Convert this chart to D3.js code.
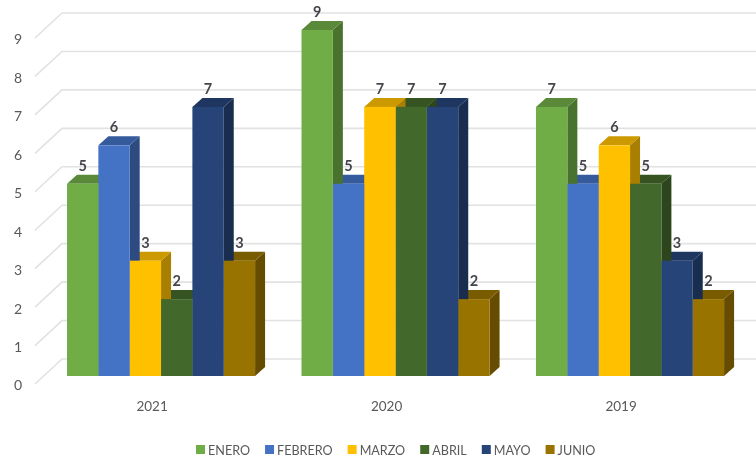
<!DOCTYPE html>
<html>
<head>
<meta charset="utf-8">
<script src="https://cdn.jsdelivr.net/npm/d3@7"></script>
<style>
  html, body { margin: 0; background: #fff; }
  svg { display: block; filter: blur(0.45px); }
  text { font-family: Lato, "Open Sans", sans-serif; fill: #595959; }
</style>
</head>
<body>
<svg width="756" height="459"></svg>
<script>
// data
const years = ['2021', '2020', '2019'];
const months = ['ENERO', 'FEBRERO', 'MARZO', 'ABRIL', 'MAYO', 'JUNIO'];
const enero = [5, 9, 7];
const febrero = [6, 5, 5];
const marzo = [3, 7, 6];
const abril = [2, 7, 5];
const mayo = [7, 7, 3];
const junio = [3, 2, 2];
const monthValues = [enero, febrero, marzo, abril, mayo, junio];
const monthColors = ['#70ad47', '#4472c4', '#ffc000', '#43682b', '#264478', '#997300'];
const valueTicks = [0, 1, 2, 3, 4, 5, 6, 7, 8, 9];

// 3d look
const depthX = 10, depthY = 9;
const wallX = 62, wallY = 17, floorLeft = 35;

const svg = d3.select('svg');

const x0 = d3.scaleBand().domain(years).range([43.8, 747.3]).paddingInner(0.198).paddingOuter(0.099);
const x1 = d3.scaleBand().domain(months).range([0, x0.bandwidth()]);
const y = d3.scaleLinear().domain([0, 9]).range([376, 30]);

const shade = (c, k) => d3.interpolateRgb('#000', c)(k);

// back wall grid
const grid = svg.append('g');
valueTicks.forEach(v => {
  grid.append('polyline')
    .attr('points', [[floorLeft, y(v) + 8], [wallX, y(v) - wallY], [756, y(v) - wallY]].join(' '))
    .attr('fill', 'none')
    .attr('stroke', '#e2e2e2')
    .attr('stroke-width', 1.6);
});

// value axis
const yAxis = svg.append('g')
  .attr('transform', 'translate(24,9.5)')
  .call(d3.axisLeft(y).tickValues(valueTicks).tickSize(0).tickPadding(0));
yAxis.select('.domain').remove();
yAxis.selectAll('text').attr('font-size', 14).attr('text-anchor', 'middle').attr('dx', -6);

// year axis
const xAxis = svg.append('g')
  .attr('transform', 'translate(-9,401)')
  .call(d3.axisBottom(x0).tickSize(0).tickPadding(0));
xAxis.select('.domain').remove();
xAxis.selectAll('text').attr('font-size', 13.5);

// side, top and label right to left so each side face covers its neighbour's top
const backs = svg.append('g');
const fronts = svg.append('g');
years.slice().reverse().forEach(year => {
  const yi = years.indexOf(year);
  d3.range(months.length - 1, -1, -1).forEach(mi => {
    const v = monthValues[mi][yi];
    const color = monthColors[mi];
    const left = x0(year) + x1(months[mi]);
    const right = left + x1.bandwidth();
    const top = y(v);
    const base = y(0);

    backs.append('text')
      .attr('x', (left + right) / 2)
      .attr('y', top - 13)
      .attr('text-anchor', 'middle')
      .attr('font-size', 14.5)
      .attr('font-weight', 700)
      .style('fill', '#44464c')
      .text(v);

    backs.append('polygon')
      .attr('points', [[right, top], [right + depthX, top - depthY], [right + depthX, base - depthY], [right, base]].join(' '))
      .attr('fill', shade(color, 0.66));
    backs.append('polygon')
      .attr('points', [[left, top], [left + depthX, top - depthY], [right + depthX, top - depthY], [right, top]].join(' '))
      .attr('fill', shade(color, 0.8));

    // fronts all sit on one plane, on top of every side face
    fronts.append('rect')
      .attr('x', left)
      .attr('y', top)
      .attr('width', x1.bandwidth())
      .attr('height', base - top)
      .attr('fill', color);
  });
});

// legend
const legend = svg.append('g').attr('transform', 'translate(196,450)');
let legendX = 0;
months.forEach((m, i) => {
  legend.append('rect')
    .attr('x', legendX).attr('y', -5)
    .attr('width', 9).attr('height', 9)
    .attr('fill', monthColors[i]);
  const label = legend.append('text')
    .attr('x', legendX + 12).attr('y', 5)
    .attr('font-size', 12.6)
    .text(m);
  legendX += 12 + label.node().getComputedTextLength() + 15;
});
</script>
</body>
</html>
